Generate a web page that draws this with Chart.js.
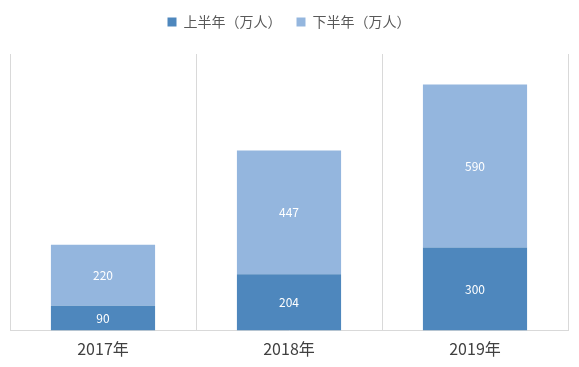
<!DOCTYPE html>
<html>
<head>
<meta charset="utf-8">
<script src="https://cdn.jsdelivr.net/npm/chart.js@4"></script>
<style>
  html, body { margin: 0; padding: 0; background: #fff; }
  #wrap { width: 579px; height: 367px; }
</style>
</head>
<body>
<div id="wrap"><canvas id="barChart"></canvas></div>
<script>
const years = ["2017年", "2018年", "2019年"];
const firstHalf = [90, 204, 300];
const secondHalf = [220, 447, 590];
const seriesNames = ["上半年（万人）", "下半年（万人）"];

const FONT = "'Noto Sans CJK SC', 'Noto Sans', sans-serif";

// white value text in the middle of each segment
const segmentLabels = {
  id: "segmentLabels",
  afterDatasetsDraw(chart) {
    const ctx = chart.ctx;
    ctx.save();
    ctx.fillStyle = "#ffffff";
    ctx.font = "12px " + FONT;
    ctx.textAlign = "center";
    ctx.textBaseline = "middle";
    chart.data.datasets.forEach((ds, i) => {
      chart.getDatasetMeta(i).data.forEach((bar, j) => {
        const p = bar.getProps(["x", "y", "base"], true);
        ctx.fillText(ds.data[j], p.x, (p.y + p.base) / 2);
      });
    });
    ctx.restore();
  }
};

// push the plot down a bit below the legend
const legendGap = {
  id: "legendGap",
  beforeInit(chart) {
    const fit = chart.legend.fit;
    chart.legend.fit = function () {
      fit.bind(chart.legend)();
      this.height += 15;
    };
  }
};

new Chart(document.getElementById("barChart"), {
  type: "bar",
  data: {
    labels: years,
    datasets: [
      { label: seriesNames[0], data: firstHalf, backgroundColor: "#4e87bd" },
      { label: seriesNames[1], data: secondHalf, backgroundColor: "#94b6de" }
    ]
  },
  options: {
    responsive: true,
    maintainAspectRatio: false,
    animation: false,
    layout: { padding: { left: 10, right: 11, top: 0, bottom: 0 } },
    datasets: { bar: { categoryPercentage: 1, barPercentage: 0.56 } },
    plugins: {
      legend: {
        position: "top",
        labels: {
          boxWidth: 9, boxHeight: 9,
          color: "#595959",
          font: { size: 14, family: FONT },
          padding: 15
        }
      },
      tooltip: { enabled: false }
    },
    scales: {
      x: {
        stacked: true,
        grid: { offset: true, color: "#d9d9d9", drawTicks: false },
        border: { color: "#d9d9d9" },
        ticks: { color: "#404040", font: { size: 16, family: FONT, lineHeight: 0.65 }, padding: 13 }
      },
      y: { stacked: true, display: false, min: 0, max: 1000 }
    }
  },
  plugins: [segmentLabels, legendGap]
});
</script>
</body>
</html>
